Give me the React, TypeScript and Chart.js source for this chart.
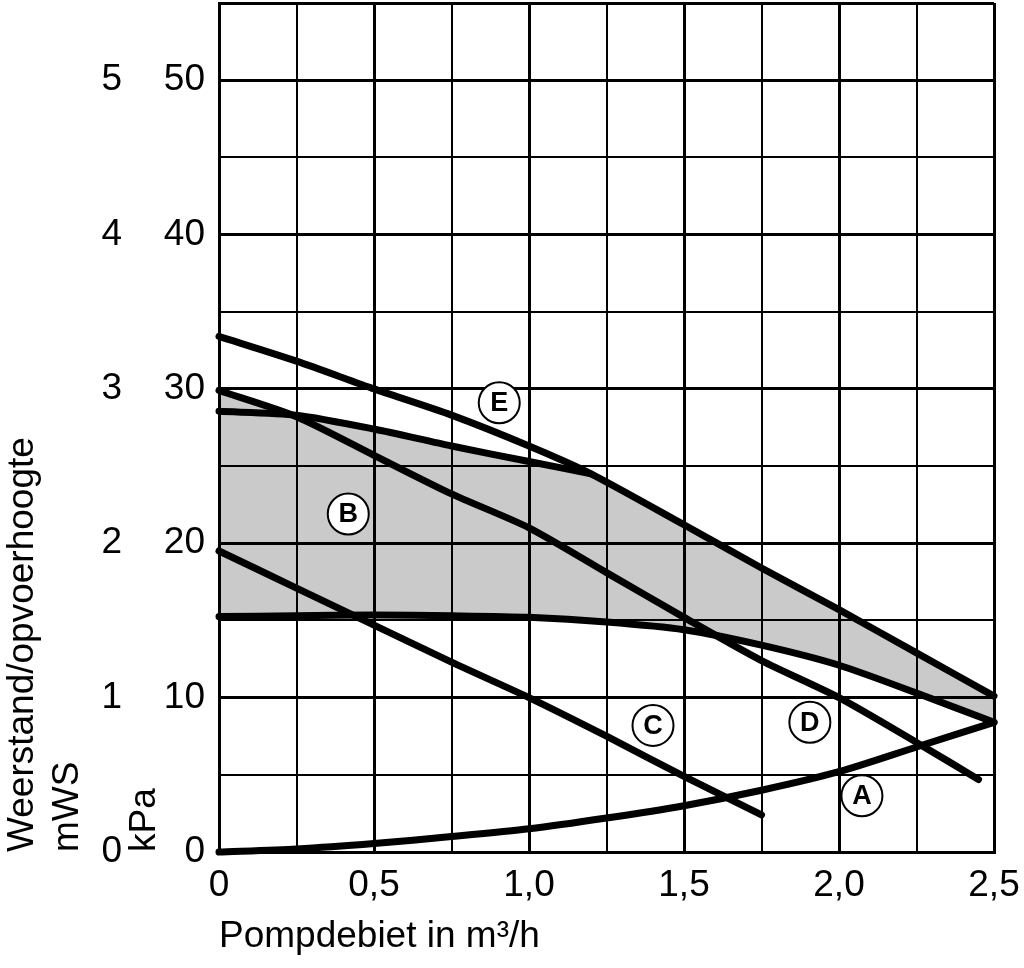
import React, { useEffect, useRef } from 'react';
import { Chart, registerables } from 'chart.js';

Chart.register(...registerables);

// ---- data (flow in m³/h, head in kPa) ----
const flowE = [0, 0.25, 0.5, 0.75, 1.0, 1.2, 1.5, 1.75, 2.0, 2.25, 2.5];
const headE = [33.4, 31.8, 30.0, 28.3, 26.3, 24.5, 21.2, 18.4, 15.7, 12.9, 10.1];

const flowBTop = [0, 0.25, 0.5, 0.75, 1.0, 1.2];
const headBTop = [28.55, 28.3, 27.4, 26.3, 25.3, 24.5];

const flowBLow = [0, 0.25, 0.5, 0.75, 1.0, 1.25, 1.5, 1.75, 2.0, 2.25, 2.5];
const headBLow = [15.25, 15.3, 15.35, 15.3, 15.2, 14.9, 14.4, 13.4, 12.1, 10.3, 8.4];

const flowD = [0, 0.25, 0.5, 0.75, 1.0, 1.25, 1.5, 1.75, 2.0, 2.25, 2.45];
const headD = [29.9, 28.2, 25.7, 23.2, 21.0, 18.1, 15.2, 12.4, 10.0, 7.1, 4.7];

const flowC = [0, 0.25, 0.5, 0.75, 1.0, 1.25, 1.5, 1.75];
const headC = [19.5, 17.1, 14.7, 12.3, 10.0, 7.5, 4.9, 2.4];

const flowA = [0, 0.25, 0.5, 0.75, 1.0, 1.25, 1.5, 1.75, 2.0, 2.25, 2.5];
const headA = [0, 0.2, 0.55, 1.0, 1.5, 2.2, 3.0, 4.0, 5.2, 6.8, 8.4];

const labelText = ['A', 'B', 'C', 'D', 'E'];
const labelFlow = [2.074, 0.417, 1.4, 1.906, 0.904];
const labelHead = [3.64, 21.9, 8.2, 8.41, 29.1];

const xTitle = 'Pompdebiet in m³/h';
const yTitleOuter = ['Weerstand/opvoerhoogte', 'mWS'];
const yTitleInner = 'kPa';

const toPts = (xs: number[], ys: number[]) => xs.map((x, i) => ({ x, y: ys[i] }));

// upper boundary of the grey band: D at the left edge, then B top until it meets E, then E
const envelopePts = [
  { x: flowD[0], y: headD[0] },
  ...toPts(flowBTop, headBTop).filter((p) => p.x > 0),
  ...toPts(flowE, headE).filter((p) => p.x > flowBTop[flowBTop.length - 1]),
];

const FONT = "'Liberation Sans', Arial, sans-serif";
const LW = 7;

const labelPlugin = {
  id: 'circleLabels',
  afterDatasetsDraw(chart: any) {
    const { ctx, scales } = chart;
    ctx.save();
    labelText.forEach((t, i) => {
      const px = scales.x.getPixelForValue(labelFlow[i]);
      const py = scales.y.getPixelForValue(labelHead[i]);
      ctx.beginPath();
      ctx.arc(px, py, 20.5, 0, Math.PI * 2);
      ctx.fillStyle = '#fff';
      ctx.fill();
      ctx.lineWidth = 2;
      ctx.strokeStyle = '#000';
      ctx.stroke();
      ctx.fillStyle = '#000';
      ctx.font = `bold 27px ${FONT}`;
      ctx.textAlign = 'center';
      ctx.textBaseline = 'middle';
      ctx.fillText(t, px, py + 1);
    });
    ctx.restore();
  },
};

const lineDs = (pts: any[], extra: any = {}) => ({
  data: pts,
  borderColor: '#000',
  borderWidth: LW,
  borderCapStyle: 'round',
  borderJoinStyle: 'round',
  pointRadius: 0,
  tension: 0.25,
  fill: false,
  clip: 8,
  ...extra,
});

export default function App() {
  const ref = useRef<HTMLCanvasElement>(null);

  useEffect(() => {
    const canvas = ref.current!;
    Chart.defaults.font.family = FONT;
    Chart.defaults.color = '#000';
    const noPad = (s: any) => {
      s.paddingTop = 0;
      s.paddingBottom = 0;
      s.paddingLeft = 0;
      s.paddingRight = 0;
    };
    const chart = new Chart(canvas, {
      type: 'line',
      data: {
        datasets: [
          lineDs(toPts(flowE, headE)) as any,
          lineDs(toPts(flowD, headD)),
          lineDs(toPts(flowC, headC)),
          lineDs(toPts(flowA, headA)),
          lineDs(toPts(flowBTop, headBTop)),
          lineDs(toPts(flowBLow, headBLow), { fill: '+1', backgroundColor: '#cacaca' }),
          lineDs(envelopePts, { borderColor: 'rgba(0,0,0,0)' }),
        ],
      },
      options: {
        animation: false,
        responsive: false,
        events: [],
        layout: { padding: { left: 0, right: 30, top: 3, bottom: 0 } },
        plugins: {
          legend: { display: false },
          tooltip: { enabled: false },
          filler: { drawTime: 'beforeDraw' },
        } as any,
        scales: {
          x: {
            type: 'linear',
            min: 0,
            max: 2.5,
            afterFit: (s: any) => {
              s.height = 116;
              noPad(s);
            },
            ticks: {
              stepSize: 0.25,
              autoSkip: false,
              maxRotation: 0,
              padding: 12,
              font: { size: 37 },
              color: '#000',
              callback: (v: any) => {
                const n = Number(v);
                if (Math.abs(n * 2 - Math.round(n * 2)) > 1e-6) return '';
                return n === 0 ? '0' : n.toFixed(1).replace('.', ',');
              },
            },
            grid: {
              color: '#000',
              drawTicks: false,
              lineWidth: (c: any) => {
                const n = c.tick ? c.tick.value : 0;
                return Math.abs(n * 2 - Math.round(n * 2)) < 1e-6 ? 3 : 2;
              },
            },
            border: { display: true, color: '#000', width: 3 },
            title: {
              display: true,
              text: xTitle,
              align: 'start',
              font: { size: 37, lineHeight: 1.22 },
              color: '#000',
              padding: { top: 0, bottom: 9 },
            },
          },
          y: {
            type: 'linear',
            position: 'left',
            weight: 0,
            min: 0,
            max: 55,
            afterFit: (s: any) => {
              s.width = 97;
              noPad(s);
            },
            ticks: {
              stepSize: 5,
              padding: 14,
              font: { size: 37 },
              color: '#000',
              callback: (v: any) => (Number(v) % 10 === 0 ? String(v) : ''),
            },
            grid: {
              color: '#000',
              drawTicks: false,
              lineWidth: (c: any) => {
                const n = c.tick ? c.tick.value : 0;
                return n % 10 === 0 || n === 55 ? 3 : 2;
              },
            },
            border: { display: true, color: '#000', width: 3 },
            title: {
              display: true,
              text: yTitleInner,
              align: 'start',
              font: { size: 37, lineHeight: 1.22 },
              color: '#000',
              padding: { top: 0, bottom: 0 },
            },
          },
          y2: {
            type: 'linear',
            position: 'left',
            weight: 1,
            min: 0,
            max: 5.5,
            afterFit: (s: any) => {
              s.width = 122;
              noPad(s);
            },
            ticks: {
              stepSize: 1,
              padding: 0,
              font: { size: 37 },
              color: '#000',
              callback: (v: any) => (Number(v) % 1 === 0 ? String(v) : ''),
            },
            grid: { display: false, drawTicks: false },
            border: { display: false },
            title: {
              display: true,
              text: yTitleOuter,
              align: 'start',
              font: { size: 37, lineHeight: 1.22 },
              color: '#000',
              padding: { top: 0, bottom: 0 },
            },
          },
        },
      } as any,
      plugins: [labelPlugin],
    });
    return () => chart.destroy();
  }, []);

  return (
    <div style={{ position: 'fixed', left: 0, top: 0, width: 1024, height: 968, background: '#fff' }}>
      <canvas ref={ref} width={1024} height={968} style={{ display: 'block', width: 1024, height: 968 }} />
    </div>
  );
}
